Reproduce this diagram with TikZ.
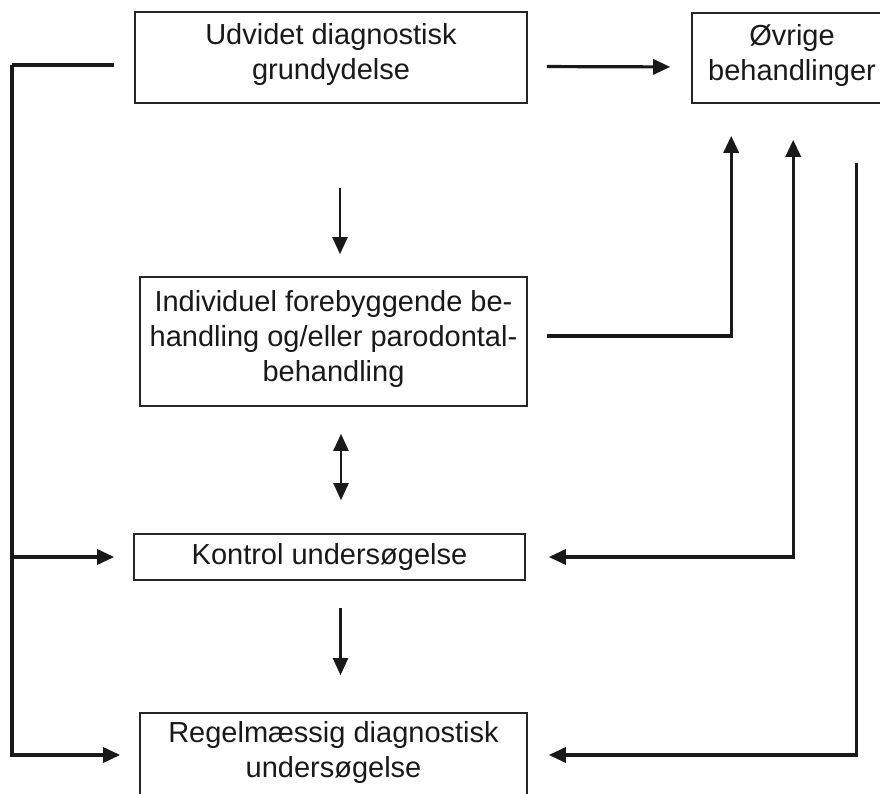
\documentclass[tikz,border=0pt]{standalone}
\usepackage{fontspec}
\setmainfont{Liberation Sans}
\usepackage{tikz}
\usetikzlibrary{arrows.meta, positioning, calc}

\begin{document}
\begin{tikzpicture}[
    x=1pt, y=-1pt,
    every node/.style={font=\fontsize{29}{35}\selectfont, text=black!90},
    box/.style={draw=black!85, line width=1.6pt, align=center, inner sep=0pt},
    conn/.style={draw=black!90, line width=3.2pt},
    arr/.style={conn, -{Triangle[length=17pt, width=15pt]}},
    darr/.style={conn, {Triangle[length=17pt, width=15pt]}-{Triangle[length=17pt, width=15pt]}},
    thin arr/.style={arr, line width=2.2pt},
    thin darr/.style={darr, line width=2.2pt},
  ]
    \useasboundingbox (0,0) rectangle (880,794);

    \node[box, minimum width=392pt, minimum height=91pt, text depth=12pt] (udvidet) at (331,57.5)
      {Udvidet diagnostisk\\grundydelse};
    \node[box, minimum width=200pt, minimum height=90pt, text depth=12pt] (ovrige) at (792,58)
      {Øvrige\\behandlinger};
    \node[box, minimum width=387pt, minimum height=129pt, text depth=12pt] (individ) at (333.5,341.5)
      {Individuel forebyggende be-\\handling og/eller parodontal-\\behandling};
    \node[box, minimum width=391pt, minimum height=46pt] (kontrol) at (329.5,557)
      {Kontrol undersøgelse};
    \node[box, minimum width=387pt, minimum height=84pt, text depth=12pt] (regel) at (333.5,755)
      {Regelmæssig diagnostisk\\undersøgelse};

    \coordinate (spine) at (12,65);

    \draw[conn] ([xshift=-20pt, yshift=-7.5pt]udvidet.west) -- (spine);
    \draw[arr] (spine) |- ([xshift=-19pt]kontrol.west);
    \draw[arr] (spine) |- ([xshift=-19pt]regel.west);

    \draw[arr, shorten <=19pt, shorten >=21pt] ([yshift=-9pt]udvidet.east) -- ([yshift=-9pt]ovrige.west);
    \draw[thin arr, shorten <=84pt, shorten >=22pt] ([xshift=9pt]udvidet.south) -- ([xshift=6.5pt]individ.north);
    \draw[thin darr, shorten <=27pt, shorten >=33pt] ([xshift=7.5pt]individ.south) -- ([xshift=11.5pt]kontrol.north);
    \draw[thin arr, shorten <=27pt, shorten >=37pt] ([xshift=11pt]kontrol.south) -- ([xshift=7pt]regel.north);

    \draw[arr] ([xshift=19pt, yshift=5.5pt]individ.east) -| ([xshift=40pt, yshift=-32pt]ovrige.south west);
    \draw[darr] ([xshift=23pt]kontrol.east) -| ([xshift=102pt, yshift=-36pt]ovrige.south west);
    \draw[arr] ([xshift=165pt, yshift=-59pt]ovrige.south west) |- ([xshift=21pt]regel.east);
\end{tikzpicture}
\end{document}
